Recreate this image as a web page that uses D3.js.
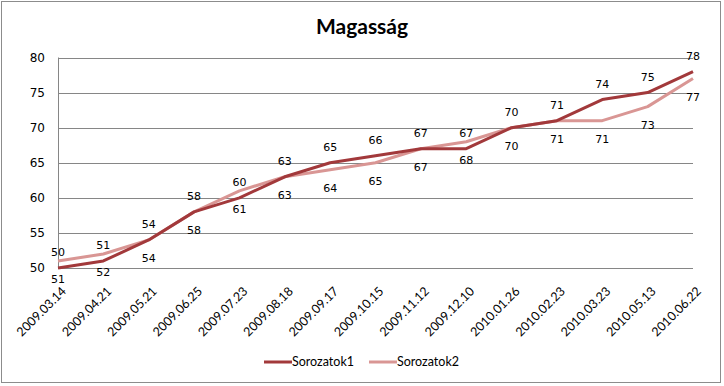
<!DOCTYPE html>
<html>
<head>
<meta charset="UTF-8">
<script src="https://cdn.jsdelivr.net/npm/d3@7"></script>
<style>
body{ margin:0; background:#fff; }
text{ font-family: "DejaVu Sans", sans-serif; }
</style>
</head>
<body>
<script>
// data
var dates = ["2009.03.14","2009.04.21","2009.05.21","2009.06.25","2009.07.23","2009.08.18","2009.09.17",
  "2009.10.15","2009.11.12","2009.12.10","2010.01.26","2010.02.23","2010.03.23","2010.05.13","2010.06.22"]
var series1 = [50,51,54,58,60,63,65,66,67,67,70,71,74,75,78]
var series2 = [51,52,54,58,61,63,64,65,67,68,70,71,71,73,77]
var names = ["Sorozatok1","Sorozatok2"]
var colors = ["#A2393B","#D99694"]
var yTicks = [50,55,60,65,70,75,80]

var width = 724, height = 386
var svg = d3.select("body").append("svg")
    .attr("width", width)
    .attr("height", height)

svg.append("rect")
    .attr("x", 1.5).attr("y", 1.5)
    .attr("width", 719).attr("height", 381)
    .attr("fill", "white")
    .attr("stroke", "#8c8c8c")

svg.append("text")
    .attr("x", 362).attr("y", 34)
    .attr("text-anchor", "middle")
    .attr("font-size", 21)
    .attr("font-weight", "bold")
    .style("font-family", "Lato, 'Open Sans', sans-serif")
    .text("Magasság")

var x = d3.scalePoint().domain(dates).range([58, 693])
var y = d3.scaleLinear().domain([50, 80]).range([268, 57.5])

// gridlines
svg.append("g").selectAll("line").data(yTicks).join("line")
    .attr("x1", 58).attr("x2", 693)
    .attr("y1", d => Math.round(y(d)) + 0.5).attr("y2", d => Math.round(y(d)) + 0.5)
    .attr("stroke", "#868686")

// axes
svg.append("line")
    .attr("x1", 58.5).attr("x2", 58.5).attr("y1", y(80)).attr("y2", y(50))
    .attr("stroke", "#868686")

svg.append("g").selectAll("text").data(yTicks).join("text")
    .attr("x", 45).attr("y", d => y(d) + 4)
    .attr("text-anchor", "end")
    .attr("font-size", 12)
    .text(d => d)

svg.append("g").selectAll("text").data(dates).join("text")
    .attr("transform", d => "translate(" + (x(d) + 9) + ",292) rotate(-45)")
    .attr("text-anchor", "end")
    .attr("font-size", 12.5)
    .style("font-family", "Lato, 'Open Sans', sans-serif")
    .text(d => d)

var line = d3.line().x((d, i) => x(dates[i])).y(d => y(d))

var allSeries = [series2, series1]
var allColors = [colors[1], colors[0]]
allSeries.forEach(function(s, k){
    svg.append("path")
        .datum(s)
        .attr("d", line)
        .attr("fill", "none")
        .attr("stroke", allColors[k])
        .attr("stroke-width", 3)
        .attr("stroke-linejoin", "round")
})

// data labels: series1 above, series2 below
svg.append("g").selectAll("text").data(series1).join("text")
    .attr("x", (d, i) => x(dates[i]))
    .attr("y", d => y(d) - 12)
    .attr("text-anchor", "middle")
    .attr("font-size", 11)
    .text(d => d)

svg.append("g").selectAll("text").data(series2).join("text")
    .attr("x", (d, i) => x(dates[i]))
    .attr("y", d => y(d) + 22)
    .attr("text-anchor", "middle")
    .attr("font-size", 11)
    .text(d => d)

// legend
var legend = svg.append("g")
var lx = [264, 369]
names.forEach(function(n, i){
    legend.append("line")
        .attr("x1", lx[i]).attr("x2", lx[i] + 28)
        .attr("y1", 362).attr("y2", 362)
        .attr("stroke", colors[i])
        .attr("stroke-width", 3)
    legend.append("text")
        .attr("x", lx[i] + 28).attr("y", 366)
        .attr("font-size", 12.5)
        .style("font-family", "Lato, 'Open Sans', sans-serif")
        .text(n)
})
</script>
</body>
</html>
